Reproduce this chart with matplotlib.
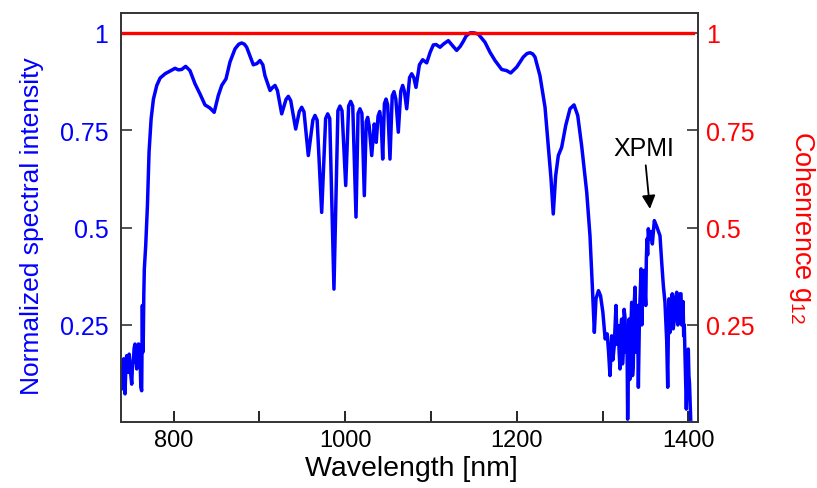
import matplotlib
matplotlib.use('Agg')
import matplotlib.pyplot as plt

plt.rcParams['font.family'] = ['Liberation Sans', 'DejaVu Sans']

# Spectrum (wavelength in nm, normalized intensity)
wavelength = [
    738.7, 739.5, 740.2, 741.0, 741.8, 742.6, 743.4, 744.3, 745.3, 746.3,
    747.3, 748.2, 749.2, 750.2, 751.2, 752.1, 753.1, 754.0, 755.0, 756.0,
    757.0, 758.0, 759.0, 760.0, 760.9, 761.8, 762.8, 763.6, 764.2, 764.7,
    765.3, 765.9, 767.5, 769.5, 771.4,
    773.8, 776.5, 780.4, 784.3, 790.1, 795.9, 801.7, 805.6, 809.4, 814.1,
    819.1, 825.0, 830.8, 836.6, 842.4, 847.3, 852.1, 856.1, 861.1, 865.7,
    871.6, 876.0, 879.4, 882.5, 885.2, 892.9, 897.0, 900.7, 904.0, 906.5,
    912.4, 915.5, 918.2, 921.0, 926.0, 931.0, 933.7, 936.5, 942.3, 946.5,
    949.3, 952.0, 957.0, 962.3, 964.8, 967.3, 972.6, 977.2, 979.6, 982.0,
    986.9, 991.5, 993.9, 996.3, 1000.6, 1004.0, 1006.4, 1008.8, 1012.6, 1015.0,
    1017.2, 1019.5, 1022.3, 1024.5, 1026.2, 1028.0, 1030.9, 1033.9, 1036.2, 1038.3,
    1040.2, 1042.0, 1043.7, 1045.7, 1047.6, 1049.5, 1052.2, 1054.8, 1056.9, 1059.0,
    1061.9, 1064.8, 1067.0, 1069.0, 1071.7, 1075.0, 1077.5, 1080.0, 1082.5, 1086.5,
    1090.3, 1095.0, 1099.0, 1102.7, 1106.0, 1110.5, 1115.0, 1120.2, 1124.0, 1129.9,
    1134.0, 1137.6, 1141.0, 1145.5, 1150.0, 1155.1, 1162.9, 1168.8, 1174.6, 1182.4,
    1188.2, 1192.9, 1199.9, 1207.6, 1212.0, 1215.4, 1218.5, 1221.2, 1227.0, 1232.9,
    1236.7, 1239.9, 1242.5, 1245.3, 1248.4, 1252.3, 1257.0, 1262.0, 1266.7, 1271.0,
    1275.6, 1281.5, 1285.3, 1288.0, 1290.4, 1292.3, 1295.2, 1297.6, 1300.3, 1303.0,
    1305.4, 1307.0, 1308.6, 1310.6, 1312.0, 1313.6, 1315.6, 1317.0, 1318.3, 1319.3,
    1320.3, 1321.2, 1322.2, 1323.2, 1324.1, 1325.1, 1326.1, 1327.5, 1328.4, 1329.2,
    1330.0, 1330.8, 1331.7, 1332.5, 1333.2, 1333.9, 1334.9, 1335.8, 1336.8, 1337.8,
    1338.8, 1339.7, 1340.7, 1341.7, 1342.4, 1343.0, 1343.9, 1344.8, 1345.7, 1346.5,
    1347.4, 1348.3, 1349.3, 1350.3, 1351.0, 1351.8, 1352.5, 1353.3, 1354.3, 1355.3,
    1356.5, 1358.0, 1360.3,
    1363.4, 1366.9, 1368.9, 1370.8, 1372.7, 1374.7, 1375.9, 1376.7, 1377.4, 1378.3,
    1379.3, 1380.2, 1381.2, 1382.3, 1383.5, 1385.0, 1386.4, 1387.7, 1389.0, 1390.2,
    1391.4, 1392.2, 1393.0, 1393.8, 1394.5, 1395.2, 1396.0, 1396.8, 1397.6, 1398.8,
    1399.9, 1400.6, 1401.3, 1402.0, 1402.7,
]
intensity = [
    0.145, 0.110, 0.086, 0.140, 0.163, 0.100, 0.073, 0.140, 0.171, 0.150,
    0.128, 0.175, 0.155, 0.120, 0.098, 0.150, 0.155, 0.190, 0.201, 0.160,
    0.137, 0.185, 0.201, 0.200, 0.170, 0.090, 0.081, 0.300, 0.180, 0.220,
    0.330, 0.394, 0.454, 0.556, 0.694,
    0.779, 0.830, 0.865, 0.884, 0.895, 0.902, 0.909, 0.905, 0.906, 0.914,
    0.903, 0.869, 0.843, 0.815, 0.807, 0.796, 0.839, 0.865, 0.882, 0.925,
    0.959, 0.971, 0.974, 0.971, 0.963, 0.918, 0.921, 0.929, 0.918, 0.890,
    0.852, 0.860, 0.865, 0.852, 0.792, 0.829, 0.837, 0.826, 0.753, 0.798,
    0.809, 0.797, 0.685, 0.776, 0.788, 0.776, 0.539, 0.780, 0.792, 0.780,
    0.342, 0.800, 0.812, 0.800, 0.608, 0.812, 0.824, 0.812, 0.527, 0.793,
    0.805, 0.793, 0.582, 0.772, 0.783, 0.760, 0.685, 0.766, 0.719, 0.786,
    0.798, 0.770, 0.676, 0.818, 0.830, 0.815, 0.676, 0.838, 0.849, 0.830,
    0.745, 0.850, 0.865, 0.850, 0.805, 0.885, 0.895, 0.885, 0.860, 0.918,
    0.931, 0.923, 0.950, 0.969, 0.970, 0.963, 0.972, 0.980, 0.970, 0.955,
    0.965, 0.978, 0.992, 1.000, 1.000, 0.997, 0.976, 0.950, 0.929, 0.906,
    0.903, 0.897, 0.912, 0.938, 0.947, 0.949, 0.946, 0.938, 0.890, 0.809,
    0.710, 0.625, 0.535, 0.633, 0.685, 0.706, 0.762, 0.805, 0.815, 0.788,
    0.710, 0.591, 0.479, 0.351, 0.231, 0.317, 0.338, 0.325, 0.283, 0.214,
    0.227, 0.180, 0.120, 0.222, 0.160, 0.197, 0.300, 0.200, 0.248, 0.180,
    0.137, 0.240, 0.265, 0.150, 0.180, 0.290, 0.270, 0.180, 0.230, 0.008,
    0.150, 0.265, 0.110, 0.190, 0.260, 0.308, 0.120, 0.150, 0.300, 0.347,
    0.180, 0.220, 0.300, 0.090, 0.200, 0.280, 0.330, 0.394, 0.250, 0.360,
    0.310, 0.390, 0.340, 0.300, 0.420, 0.471, 0.430, 0.497, 0.470, 0.475,
    0.490, 0.458, 0.518,
    0.501, 0.479, 0.411, 0.351, 0.308, 0.210, 0.090, 0.250, 0.317, 0.230,
    0.250, 0.310, 0.330, 0.240, 0.260, 0.320, 0.334, 0.250, 0.280, 0.330,
    0.330, 0.250, 0.270, 0.310, 0.222, 0.250, 0.180, 0.100, 0.034, 0.150,
    0.188, 0.120, 0.100, 0.050, 0.008,
]

# Coherence (flat at 1)
coh_wavelength = [740, 1405]
coherence = [1, 1]

left_ticks = [0.25, 0.5, 0.75, 1]
left_labels = ['0.25', '0.5', '0.75', '1']

fig = plt.figure(figsize=(8.17, 4.89), dpi=100)
ax = fig.add_axes([121 / 817, 65.7 / 489, 577 / 817, 409.3 / 489])
ax2 = ax.twinx()

ax.plot(wavelength, intensity, color='#0000ff', lw=2.5, solid_joinstyle='round', zorder=3)
ax2.plot(coh_wavelength, coherence, color='#ff0000', lw=2.4, zorder=2)

for a in (ax, ax2):
    a.set_xlim(738.7, 1411.2)
    a.set_ylim(0, 1.051)
    for s in a.spines.values():
        s.set_color('#333333')
        s.set_linewidth(1.2)

ax.set_xticks([800, 1000, 1200, 1400])
ax.set_xticks([900, 1100, 1300], minor=True)
ax.tick_params(axis='x', which='both', direction='in', length=8, width=1.2,
               labelsize=17, pad=5, top=False, colors='black')
ax.set_yticks(left_ticks)
ax.set_yticklabels(left_labels)
ax.tick_params(axis='y', direction='in', length=8, width=1.2, labelsize=18,
               pad=9, labelcolor='#0000ff', color='#333333')
ax2.set_yticks(left_ticks)
ax2.set_yticklabels(left_labels)
ax2.tick_params(axis='y', direction='in', length=8, width=1.2, labelsize=18,
                pad=6, labelcolor='#ff0000', color='#333333')

fig.text(0.504, 0.040, 'Wavelength [nm]', fontsize=20.5, ha='center', va='center')
fig.text(0.039, 0.538, 'Normalized spectral intensity', fontsize=19, color='#0000ff',
         rotation=90, ha='center', va='center')
fig.text(0.982, 0.534, r'Cohenrence g$_{\mathregular{12}}$', fontsize=19.5, color='#ff0000',
         rotation=270, ha='center', va='center')

ax.annotate('XPMI', xy=(1355.2, 0.548), xytext=(1348.3, 0.705), fontsize=18,
            ha='center', va='center',
            arrowprops=dict(arrowstyle='-|>', color='black', lw=1.3,
                            mutation_scale=20, shrinkA=2, shrinkB=0))

fig.savefig('out.png', dpi=100)
